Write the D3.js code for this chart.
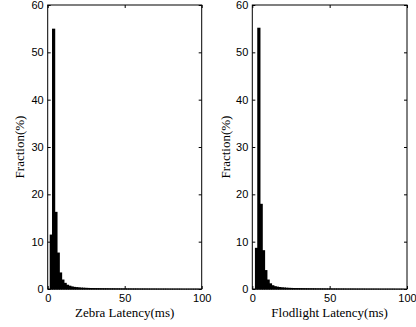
<!DOCTYPE html>
<html><head><meta charset="utf-8">
<script src="https://cdn.jsdelivr.net/npm/d3@7"></script>
<style>body{margin:0;background:#fff}svg{display:block}</style>
</head><body>
<svg id="c" width="416" height="327"></svg>
<script>
// Data
const yTicks = [0, 10, 20, 30, 40, 50, 60];
const xTicks = [0, 50, 100];
const binWidth = 1.5;
const zebraStart = 1.3;
const zebraFraction = [11.5, 55, 16.3, 7.7, 3.5, 2.0, 1.3, 0.9, 0.7, 0.55, 0.45, 0.4, 0.35, 0.3, 0.28, 0.25, 0.23, 0.21, 0.2, 0.19, 0.18, 0.17, 0.16, 0.15, 0.15, 0.14, 0.13, 0.13, 0.12, 0.12, 0.11, 0.11, 0.1, 0.1, 0.1, 0.09, 0.09, 0.09, 0.08, 0.08, 0.08, 0.08, 0.07, 0.07, 0.07, 0.07, 0.06, 0.06, 0.06, 0.06, 0.06, 0.05, 0.05, 0.05, 0.05, 0.05, 0.05, 0.04, 0.04, 0.04, 0.04, 0.04, 0.04, 0.04, 0.03];
const flodStart = 1.7;
const flodFraction = [8.7, 55.2, 18, 8.2, 4.0, 2.0, 1.2, 0.8, 0.6, 0.5, 0.42, 0.36, 0.32, 0.28, 0.25, 0.23, 0.21, 0.2, 0.19, 0.18, 0.17, 0.16, 0.15, 0.14, 0.14, 0.13, 0.12, 0.12, 0.11, 0.11, 0.1, 0.1, 0.1, 0.09, 0.09, 0.09, 0.08, 0.08, 0.08, 0.07, 0.07, 0.07, 0.07, 0.06, 0.06, 0.06, 0.06, 0.05, 0.05, 0.05, 0.05, 0.05, 0.05, 0.04, 0.04, 0.04, 0.04, 0.04, 0.04, 0.04, 0.03, 0.03, 0.03, 0.03];
const panels = [
  {xLabel: "Zebra Latency(ms)", start: zebraStart, values: zebraFraction, left: 47.7, right: 201.7, ylabX: 19},
  {xLabel: "Flodlight Latency(ms)", start: flodStart, values: flodFraction, left: 252.3, right: 407, ylabX: 225}
];
const plotTop = 5, plotBottom = 289;

const svg = d3.select("#c");
panels.forEach(p => {
  const x = d3.scaleLinear().domain([0, 100]).range([p.left, p.right]);
  const y = d3.scaleLinear().domain([0, 60]).range([plotBottom, plotTop]);
  const g = svg.append("g");
  const bins = p.values.map((v, i) => ({x0: p.start + i * binWidth, x1: p.start + (i + 1) * binWidth, v}));
  g.selectAll("rect.bar").data(bins).enter().append("rect")
    .attr("x", d => x(d.x0))
    .attr("width", d => x(d.x1) - x(d.x0) + 0.9)
    .attr("y", d => y(d.v))
    .attr("height", d => y(0) - y(d.v) + 0.5)
    .attr("fill", "#000");
  const tl = 3;
  const fontT = "Liberation Sans, Arial, sans-serif";
  const ax = g.append("g").attr("transform", `translate(${p.left},0)`)
    .call(d3.axisLeft(y).tickValues(yTicks).tickSize(-tl).tickPadding(4));
  const ar = g.append("g").attr("transform", `translate(${p.right},0)`)
    .call(d3.axisRight(y).tickValues(yTicks).tickSize(-tl).tickFormat(""));
  const ab = g.append("g").attr("transform", `translate(0,${plotBottom})`)
    .call(d3.axisBottom(x).tickValues(xTicks).tickSize(-tl).tickPadding(5));
  const at = g.append("g").attr("transform", `translate(0,${plotTop})`)
    .call(d3.axisTop(x).tickValues(xTicks).tickSize(-tl).tickFormat(""));
  [ax, ar, ab, at].forEach(a => {
    a.select(".domain").remove();
    a.selectAll("line").attr("stroke", "#000");
    a.selectAll("text").attr("font-family", fontT).attr("font-size", 11).attr("fill", "#000");
  });
  g.append("rect").attr("x", p.left).attr("y", plotTop).attr("width", p.right - p.left).attr("height", plotBottom - plotTop)
    .attr("fill", "none").attr("stroke", "#000").attr("stroke-width", 1);
  g.append("text").attr("x", (p.left + p.right) / 2).attr("y", 317)
    .attr("text-anchor", "middle").attr("font-family", "Liberation Serif, Times New Roman, serif").attr("font-size", 13)
    .text(p.xLabel);
  g.append("text").attr("transform", `translate(${p.ylabX},${(plotTop + plotBottom) / 2}) rotate(-90)`)
    .attr("text-anchor", "middle").attr("dy", "0.35em").attr("font-family", "Liberation Serif, Times New Roman, serif").attr("font-size", 13)
    .text("Fraction(%)");
});
</script>
</body></html>
